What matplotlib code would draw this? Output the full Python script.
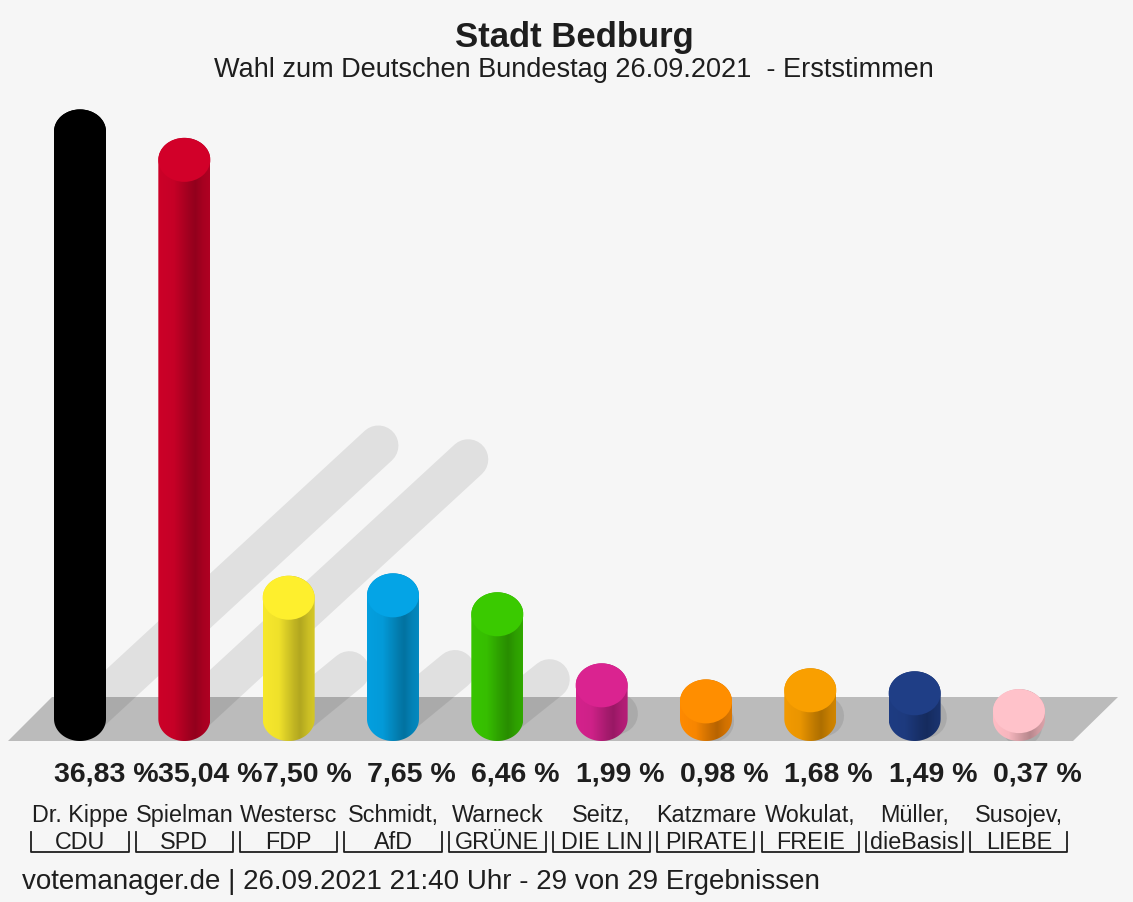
import numpy as np
import matplotlib.pyplot as plt
from matplotlib.patches import Polygon, Ellipse, Rectangle
from matplotlib.colors import to_rgb

# results (Erststimmen, percent)
candidates = ["Dr. Kippe", "Spielman", "Westersc", "Schmidt,", "Warneck",
              "Seitz,", "Katzmare", "Wokulat,", "Müller,", "Susojev,"]
parties = ["CDU", "SPD", "FDP", "AfD", "GRÜNE",
           "DIE LIN", "PIRATE", "FREIE", "dieBasis", "LIEBE"]
values = [36.83, 35.04, 7.50, 7.65, 6.46, 1.99, 0.98, 1.68, 1.49, 0.37]
value_labels = ["36,83 %", "35,04 %", "7,50 %", "7,65 %", "6,46 %",
                "1,99 %", "0,98 %", "1,68 %", "1,49 %", "0,37 %"]
colors = ["#000000", "#cc0028", "#f7e82c", "#049fdf", "#38c400",
          "#d4228c", "#ff8a00", "#f29a00", "#1e3c82", "#ffbcc4"]

W, H = 1133, 903
X0, DX = 80, 104.33      # pixel x of first bar, spacing
Y0, SY = 696, 15.9       # pixel y of zero line, px per percent

def ux(px):
    return (px - X0) / DX

def uy(py):
    return (Y0 - py) / SY

BG = "#f6f6f6"
fig = plt.figure(figsize=(W / 100, H / 100), dpi=100, facecolor=BG)
ax = fig.add_axes([0, 0, 1, 1])
ax.set_facecolor(BG)
ax.axis("off")

xs = np.arange(len(values))
half_w = 26 / DX
ry = 22 / SY
bottom_c = uy(720)

# shadows, kept above the front edge of the platform
clip = Rectangle((ux(0), uy(742)), ux(W) - ux(0), uy(0) - uy(742),
                 transform=ax.transData, facecolor="none", edgecolor="none")
ax.add_patch(clip)
for x, v in zip(xs, values):
    d = 8.1 * v
    ln, = ax.plot([x, x + d / DX], [uy(722), uy(730 - 0.95 * d)],
                  color="black", alpha=0.085, lw=29, solid_capstyle="round",
                  zorder=1)
    ln.set_clip_path(clip)

# platform
plat = Polygon([(ux(8), uy(742)), (ux(52), uy(698)), (ux(1118), uy(698)),
                (ux(1073), uy(742))], closed=True, facecolor="#bbbbbb",
               edgecolor="none", zorder=0.5)
ax.add_patch(plat)

# cylinders
t = np.linspace(0, np.pi, 40)
grad_pos = [0.0, 0.3, 0.6, 0.72, 0.88, 1.0]
grad_fac = [1.0, 0.97, 0.78, 0.72, 0.82, 0.86]
gx = np.linspace(0, 1, 64)
for x, v, c in zip(xs, values, colors):
    top_c = v - ry
    top = np.column_stack([x + half_w * np.cos(t), top_c + ry * np.sin(t)])
    bot = np.column_stack([x - half_w * np.cos(t), bottom_c - ry * np.sin(t)])
    shape = Polygon(np.vstack([top, bot]), closed=True, facecolor="none",
                    edgecolor="none")
    ax.add_patch(shape)
    rgb = np.array(to_rgb(c))
    fac = np.interp(gx, grad_pos, grad_fac)
    img = np.clip(rgb[None, None, :] * fac[None, :, None], 0, 1)
    im = ax.imshow(img, extent=[x - half_w, x + half_w, bottom_c - ry, v],
                   aspect="auto", interpolation="bilinear", zorder=3)
    im.set_clip_path(shape)
    face = np.clip(rgb * 1.03, 0, 1)
    ax.add_patch(Ellipse((x, top_c), 2 * half_w, 2 * ry, facecolor=face,
                         edgecolor="none", zorder=4))

ax.set_xlim(ux(0), ux(W))
ax.set_ylim(uy(H), uy(0))

# labels under the bars
txt = "#1e1e1e"
for x, lab, name, party in zip(xs, value_labels, candidates, parties):
    ax.text(x - 0.25, uy(774), lab, ha="left", va="center", fontsize=20.5,
            fontweight="bold", family="Liberation Sans", color=txt, zorder=5)
    ax.text(x, uy(816), name, ha="center", va="center", fontsize=16.8,
            family="Liberation Sans", color=txt)
    ax.text(x, uy(843), party, ha="center", va="center", fontsize=16.8,
            family="Liberation Sans", color=txt)
    ax.plot([x - 0.465, x - 0.465, x + 0.465, x + 0.465],
            [uy(833), uy(853), uy(853), uy(833)], color=txt, lw=1.3)

fig.text(574 / W, 1 - 37 / H, "Stadt Bedburg", ha="center", va="center",
         fontsize=25, fontweight="bold", family="Liberation Sans", color=txt)
fig.text(574 / W, 1 - 70 / H,
         "Wahl zum Deutschen Bundestag 26.09.2021  - Erststimmen",
         ha="center", va="center", fontsize=19.5, family="Liberation Sans",
         color=txt)
fig.text(22 / W, 1 - 882 / H,
         "votemanager.de | 26.09.2021 21:40 Uhr - 29 von 29 Ergebnissen",
         ha="left", va="center", fontsize=20, family="Liberation Sans",
         color=txt)

fig.savefig("out.png", dpi=100, facecolor=BG)
